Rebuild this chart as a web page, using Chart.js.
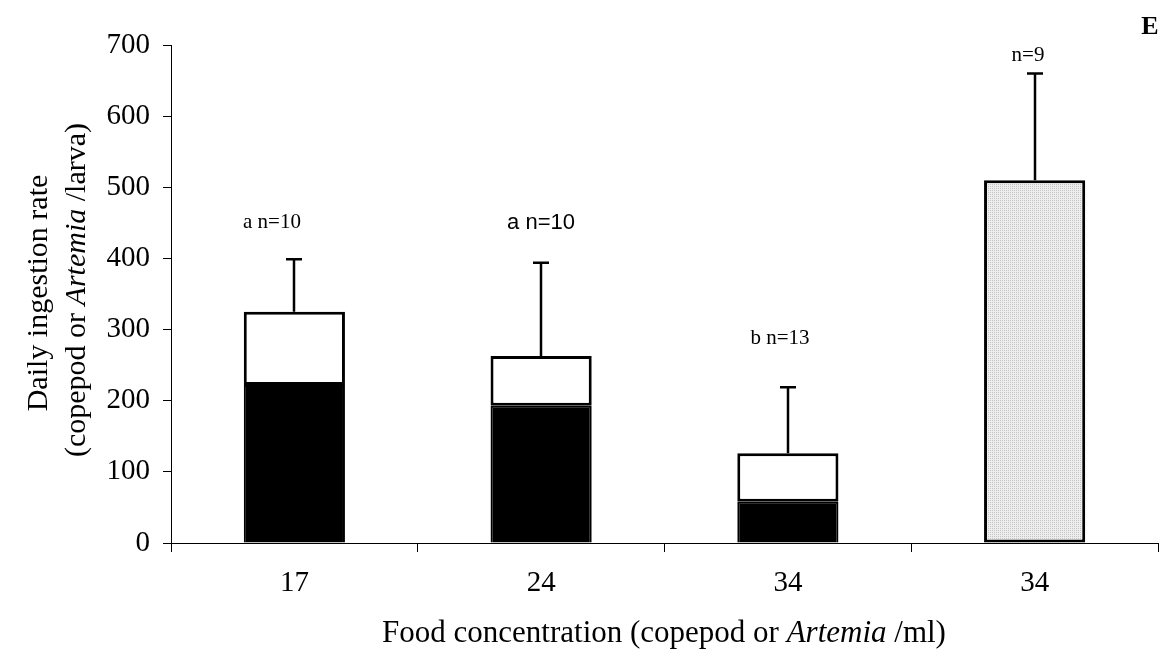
<!DOCTYPE html>
<html>
<head>
<meta charset="utf-8">
<script src="https://cdn.jsdelivr.net/npm/chart.js@4.4.1/dist/chart.umd.min.js"></script>
<style>
  html, body { margin: 0; padding: 0; background: #fff; }
  #wrap { width: 1165px; height: 654px; position: relative; }
</style>
</head>
<body>
<div id="wrap"><canvas id="chart" width="1165" height="654"></canvas></div>
<script>
// food concentration groups (last one is Artemia)
const categories = ['17', '24', '34', '34'];
// copepods eaten (black part of each bar)
const copepodPart = [222, 193, 58, null];
// total daily ingestion (top of each bar)
const totalIngestion = [325, 263, 126, 510];
// top of the error bar
const errorTop = [399, 394, 219, 660];
// letters and sample sizes above the bars
const groupLabels = ['a n=10', 'a n=10', 'b n=13', 'n=9'];
const yTicks = [0, 100, 200, 300, 400, 500, 600, 700];

const SERIF = "'Liberation Serif', 'Times New Roman', serif";
const SANS = "'Liberation Sans', Arial, sans-serif";

// light dotted fill for the Artemia bar
function dotPattern() {
    const c = document.createElement('canvas');
    c.width = 2; c.height = 2;
    const g = c.getContext('2d');
    g.fillStyle = '#eeeeee';
    g.fillRect(0, 0, 2, 2);
    g.fillStyle = '#c4c4c4';
    g.fillRect(0, 0, 1, 1);
    return g.createPattern(c, 'repeat');
}

// label placement relative to the error bar cap (pixels)
const labelDx = [-22, 0, -8, -7];
const labelGap = [37, 40, 49, 18];
const labelFonts = ['21px ' + SERIF, '22px ' + SANS, '21px ' + SERIF, '21px ' + SERIF];

const extrasPlugin = {
    id: 'extras',
    afterDatasetsDraw(chart) {
        const ctx = chart.ctx;
        const y = chart.scales.y;
        const meta = chart.getDatasetMeta(1);
        ctx.save();
        ctx.strokeStyle = '#000';
        ctx.lineWidth = 2.5;
        meta.data.forEach((bar, i) => {
            const x = Math.round(bar.x);
            const y0 = y.getPixelForValue(totalIngestion[i]);
            const y1 = y.getPixelForValue(errorTop[i]);
            ctx.beginPath();
            ctx.moveTo(x, y0);
            ctx.lineTo(x, y1);
            ctx.moveTo(x - 8, y1);
            ctx.lineTo(x + 8, y1);
            ctx.stroke();

            ctx.fillStyle = '#000';
            ctx.font = labelFonts[i];
            ctx.textAlign = 'center';
            ctx.textBaseline = 'middle';
            ctx.fillText(groupLabels[i], x + labelDx[i], y1 - labelGap[i]);
        });

        // panel letter
        ctx.font = 'bold 26px ' + SERIF;
        ctx.textAlign = 'center';
        ctx.fillText('E', 1150, 27);

        // axis titles with italic Artemia
        drawMixed(ctx, [['Food concentration (copepod or ', false], ['Artemia', true], [' /ml)', false]], 664, 634, 0, 31);
        drawMixed(ctx, [['Daily ingestion rate', false]], 39, 293, -Math.PI / 2, 30);
        drawMixed(ctx, [['(copepod or ', false], ['Artemia', true], [' /larva)', false]], 77, 290, -Math.PI / 2, 30);
        ctx.restore();
    }
};

function drawMixed(ctx, parts, cx, cy, rot, size) {
    ctx.save();
    ctx.translate(cx, cy);
    ctx.rotate(rot);
    ctx.textBaseline = 'middle';
    ctx.textAlign = 'left';
    ctx.fillStyle = '#000';
    let total = 0;
    parts.forEach(p => {
        ctx.font = (p[1] ? 'italic ' : '') + size + 'px ' + SERIF;
        total += ctx.measureText(p[0]).width;
    });
    let x = -total / 2;
    parts.forEach(p => {
        ctx.font = (p[1] ? 'italic ' : '') + size + 'px ' + SERIF;
        ctx.fillText(p[0], x, 0);
        x += ctx.measureText(p[0]).width;
    });
    ctx.restore();
}

const fills = ['#ffffff', '#ffffff', '#ffffff', dotPattern()];

new Chart(document.getElementById('chart'), {
    type: 'bar',
    data: {
        labels: categories,
        datasets: [
            {
                label: 'copepod',
                data: copepodPart,
                backgroundColor: '#000',
                borderColor: '#000',
                borderWidth: 2,
                grouped: false,
                order: 1
            },
            {
                label: 'total',
                data: totalIngestion.map((t, i) => [copepodPart[i] || 0, t]),
                backgroundColor: fills,
                borderColor: '#000',
                borderWidth: 3,
                borderSkipped: false,
                grouped: false,
                order: 2
            }
        ]
    },
    options: {
        responsive: false,
        animation: false,
        barPercentage: 0.41,
        categoryPercentage: 1,
        layout: { padding: { top: 45, right: 7, left: 0, bottom: 0 } },
        plugins: { legend: { display: false }, tooltip: { enabled: false } },
        scales: {
            x: {
                grid: { display: true, drawOnChartArea: false, drawTicks: true, tickLength: 9, color: '#000', offset: true },
                border: { display: true, color: '#000', width: 1 },
                ticks: { color: '#000', font: { family: SERIF, size: 29 }, padding: 14 },
                afterFit(s) { s.height = 111; }
            },
            y: {
                min: 0,
                max: 700,
                afterBuildTicks(s) { s.ticks = yTicks.map(v => ({ value: v })); },
                grid: { display: true, drawOnChartArea: false, drawTicks: true, tickLength: 8, color: '#000' },
                border: { display: true, color: '#000', width: 1 },
                ticks: { color: '#000', font: { family: SERIF, size: 29 }, padding: 13 },
                afterFit(s) { s.width = 171; }
            }
        }
    },
    plugins: [extrasPlugin]
});
</script>
</body>
</html>
